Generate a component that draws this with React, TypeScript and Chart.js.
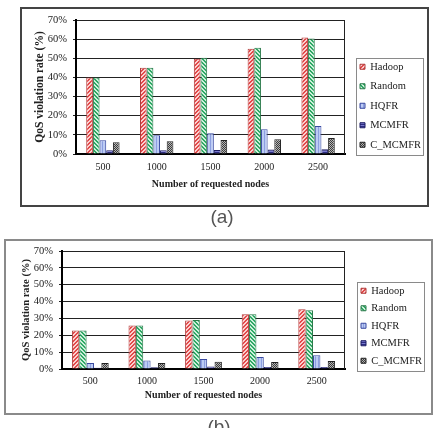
import React, { useEffect, useRef } from 'react';
import { Chart, registerables } from 'chart.js';

Chart.register(...registerables);

// Requested node counts on the x axis
const categories = ['500', '1000', '1500', '2000', '2500'];
const seriesNames = ['Hadoop', 'Random', 'HQFR', 'MCMFR', 'C_MCMFR'];

// Panel (a): QoS violation rate (%)
const hadoopA = [40, 45, 49.8, 55, 60.8];
const randomA = [40, 45, 50.3, 55.5, 60.3];
const hqfrA = [7.2, 9.8, 10.8, 12.9, 14.6];
const mcmfrA = [2, 2, 2.1, 2.4, 2.5];
const cmcmfrA = [6.2, 6.6, 7.3, 7.7, 8.4];

// Panel (b): QoS violation rate (%)
const hadoopB = [22.9, 25.8, 28.8, 32.5, 35.5];
const randomB = [22.9, 25.8, 29, 32.5, 34.9];
const hqfrB = [3.6, 5.1, 5.9, 7.1, 8.1];
const mcmfrB = [0.8, 1, 1.5, 1.2, 1.2];
const cmcmfrB = [3.5, 3.5, 4.3, 4.1, 4.7];

const yMax = 70;
const yStep = 10;

const SERIF = "'Liberation Serif', 'Times New Roman', serif";
const CANVAS_W = 439;

type Hatch = 'up' | 'down' | 'vert' | 'horiz' | 'check';
type SeriesStyle = { bg: string; fg: string; hatch: Hatch; border: string };

const seriesStyles: SeriesStyle[] = [
  { bg: '#fbd0d0', fg: '#e24a4a', hatch: 'up', border: '#b03a3a' },
  { bg: '#cdf0da', fg: '#2fa866', hatch: 'down', border: '#2a7a4a' },
  { bg: '#bccbf4', fg: '#8c9fe0', hatch: 'vert', border: '#3848a0' },
  { bg: '#7a7ad0', fg: '#2c2c80', hatch: 'horiz', border: '#1a1a60' },
  { bg: '#b4b4b4', fg: '#3a3a3a', hatch: 'check', border: '#222222' },
];

function makePattern(s: SeriesStyle): CanvasPattern | string {
  const size = s.hatch === 'check' || s.hatch === 'horiz' ? 2 : s.hatch === 'vert' ? 3 : 4;
  const tile = document.createElement('canvas');
  tile.width = size;
  tile.height = size;
  const c = tile.getContext('2d');
  if (!c) return s.bg;
  c.fillStyle = s.bg;
  c.fillRect(0, 0, size, size);
  c.fillStyle = s.fg;
  for (let i = 0; i < size; i++) {
    if (s.hatch === 'up') {
      c.fillRect(i, (size - 1 - i + size) % size, 1, 1);
      c.fillRect(i, (size - i) % size, 1, 1);
    } else if (s.hatch === 'down') {
      c.fillRect(i, i, 1, 1);
      c.fillRect(i, (i + 1) % size, 1, 1);
    } else if (s.hatch === 'vert') {
      c.fillRect(0, i, 1, 1);
    } else if (s.hatch === 'horiz') {
      c.fillRect(i, 0, 1, 1);
    } else {
      c.fillRect(i, i, 1, 1);
    }
  }
  const p = c.createPattern(tile, 'repeat');
  return p || s.bg;
}

type PanelCfg = {
  top: number;
  height: number;
  padding: { top: number; left: number; right: number; bottom: number };
  plotRight: number;
  yAxisW: number;
  yTitlePad: number;
  yTitleSize: number;
  xAxisH: number;
  xTickPad: number;
  xTitlePad: number;
  legendGap: number;
  legendX: number;
  legendY: number;
  catPct: number;
};

// Places the legend block next to the plot and draws the plot's right edge and the legend box
function makeFramePlugin(cfg: PanelCfg) {
  return {
    id: 'panelFrames',
    afterLayout(chart: any) {
      const lg = chart.legend;
      if (!lg) return;
      const w = lg.width;
      const h = lg.height;
      lg.left = cfg.legendX - cfg.legendGap;
      lg.right = lg.left + w;
      lg.top = cfg.legendY - cfg.legendGap;
      lg.bottom = lg.top + h;
    },
    afterDraw(chart: any) {
      const { ctx, chartArea } = chart;
      ctx.save();
      ctx.strokeStyle = '#222';
      ctx.lineWidth = 1;
      const xr = Math.round(chartArea.right) - 0.5;
      ctx.beginPath();
      ctx.moveTo(xr, chartArea.top);
      ctx.lineTo(xr, chartArea.bottom);
      ctx.stroke();

      const boxes = chart.legend && chart.legend.legendHitBoxes;
      if (boxes && boxes.length) {
        const l = Math.min(...boxes.map((b: any) => b.left)) - 4;
        const r = Math.max(...boxes.map((b: any) => b.left + b.width)) + 2;
        const t = Math.min(...boxes.map((b: any) => b.top)) - 4;
        const btm = Math.max(...boxes.map((b: any) => b.top + b.height)) + 4;
        ctx.strokeStyle = '#8a8a8a';
        ctx.strokeRect(Math.round(l) + 0.5, Math.round(t) + 0.5, Math.round(r - l), Math.round(btm - t));
      }
      ctx.restore();
    },
  };
}

function PanelChart({ values, cfg }: { values: number[][]; cfg: PanelCfg }) {
  const ref = useRef<HTMLCanvasElement>(null);
  useEffect(() => {
    const canvas = ref.current;
    if (!canvas) return;
    const fills = seriesStyles.map(makePattern);
    const chart = new Chart(canvas, {
      type: 'bar',
      data: {
        labels: categories,
        datasets: seriesNames.map((name, i) => ({
          label: name,
          data: values[i],
          yAxisID: 'y',
          backgroundColor: fills[i] as any,
          borderColor: seriesStyles[i].border,
          borderWidth: 1,
          categoryPercentage: cfg.catPct,
          barPercentage: 1,
        })),
      },
      options: {
        responsive: false,
        animation: false,
        layout: { padding: cfg.padding },
        plugins: {
          legend: {
            position: 'right',
            align: 'start',
            labels: {
              boxWidth: 5,
              boxHeight: 5,
              padding: cfg.legendGap,
              color: '#222',
              font: { family: SERIF, size: 10.5 },
            },
          },
          tooltip: { enabled: false },
        },
        scales: {
          x: {
            grid: { display: false, drawTicks: false },
            border: { display: true, color: '#000', width: 2 },
            ticks: { color: '#222', font: { family: SERIF, size: 10 }, padding: cfg.xTickPad },
            title: {
              display: true,
              text: 'Number of requested nodes',
              color: '#222',
              font: { family: SERIF, size: 10, weight: 'bold' },
              padding: { top: 0, bottom: cfg.xTitlePad },
            },
            afterFit: (s: any) => {
              s.height = cfg.xAxisH;
            },
          },
          y: {
            min: 0,
            max: yMax,
            ticks: {
              stepSize: yStep,
              color: '#222',
              padding: 6,
              font: { family: SERIF, size: 10.5 },
              callback: (v: any) => `${v}%`,
            },
            grid: { color: '#222', lineWidth: 1, tickLength: 3 },
            border: { color: '#000', width: 2 },
            title: {
              display: true,
              text: 'QoS violation rate (%)',
              color: '#222',
              font: { family: SERIF, size: cfg.yTitleSize, weight: 'bold' },
              padding: { top: cfg.yTitlePad, bottom: 0 },
            },
            afterFit: (s: any) => {
              s.width = cfg.yAxisW;
            },
          },
          // empty spacer between the plot and the legend column
          gap: {
            type: 'linear',
            position: 'right',
            grid: { display: false, drawTicks: false },
            border: { display: false },
            ticks: { display: false },
            afterFit: (s: any) => {
              const lw = s.chart.legend ? s.chart.legend.width : 0;
              s.width = Math.max(0, CANVAS_W - cfg.padding.right - lw - cfg.plotRight);
            },
          },
        },
      } as any,
      plugins: [makeFramePlugin(cfg)],
    });
    return () => chart.destroy();
  }, []);
  return (
    <canvas
      ref={ref}
      width={CANVAS_W}
      height={cfg.height}
      style={{ position: 'absolute', left: 0, top: cfg.top, width: CANVAS_W, height: cfg.height }}
    />
  );
}

const panelA: PanelCfg = {
  top: 0,
  height: 208,
  padding: { top: 20, left: 21, right: 0, bottom: 14 },
  plotRight: 345,
  yAxisW: 55,
  yTitlePad: 12,
  yTitleSize: 11.5,
  xAxisH: 40,
  xTickPad: 7,
  xTitlePad: 4,
  legendGap: 9,
  legendX: 360,
  legendY: 61.5,
  catPct: 0.62,
};

const panelB: PanelCfg = {
  top: 230,
  height: 198,
  padding: { top: 21, left: 5, right: 0, bottom: 25 },
  plotRight: 345,
  yAxisW: 57,
  yTitlePad: 14.7,
  yTitleSize: 10.5,
  xAxisH: 34,
  xTickPad: 6,
  xTitlePad: 2,
  legendGap: 7,
  legendX: 361,
  legendY: 55.5,
  catPct: 0.65,
};

const captionStyle: React.CSSProperties = {
  position: 'absolute',
  width: 40,
  height: 22,
  lineHeight: '22px',
  textAlign: 'center',
  fontFamily: "'Liberation Sans', Arial, sans-serif",
  fontSize: 19,
  color: '#555',
};

export default function App() {
  return (
    <div
      style={{
        position: 'absolute',
        left: 0,
        top: 0,
        width: 439,
        height: 428,
        overflow: 'hidden',
        background: '#fff',
      }}
    >
      <div
        style={{
          position: 'absolute',
          left: 20,
          top: 7,
          width: 409,
          height: 200,
          boxSizing: 'border-box',
          border: '2px solid #444',
        }}
      />
      <div
        style={{
          position: 'absolute',
          left: 4,
          top: 239,
          width: 429,
          height: 176,
          boxSizing: 'border-box',
          border: '2px solid #8a8a8a',
        }}
      />
      <PanelChart values={[hadoopA, randomA, hqfrA, mcmfrA, cmcmfrA]} cfg={panelA} />
      <PanelChart values={[hadoopB, randomB, hqfrB, mcmfrB, cmcmfrB]} cfg={panelB} />
      <div style={{ ...captionStyle, left: 202, top: 206 }}>(a)</div>
      <div style={{ ...captionStyle, left: 199, top: 416 }}>(b)</div>
    </div>
  );
}
